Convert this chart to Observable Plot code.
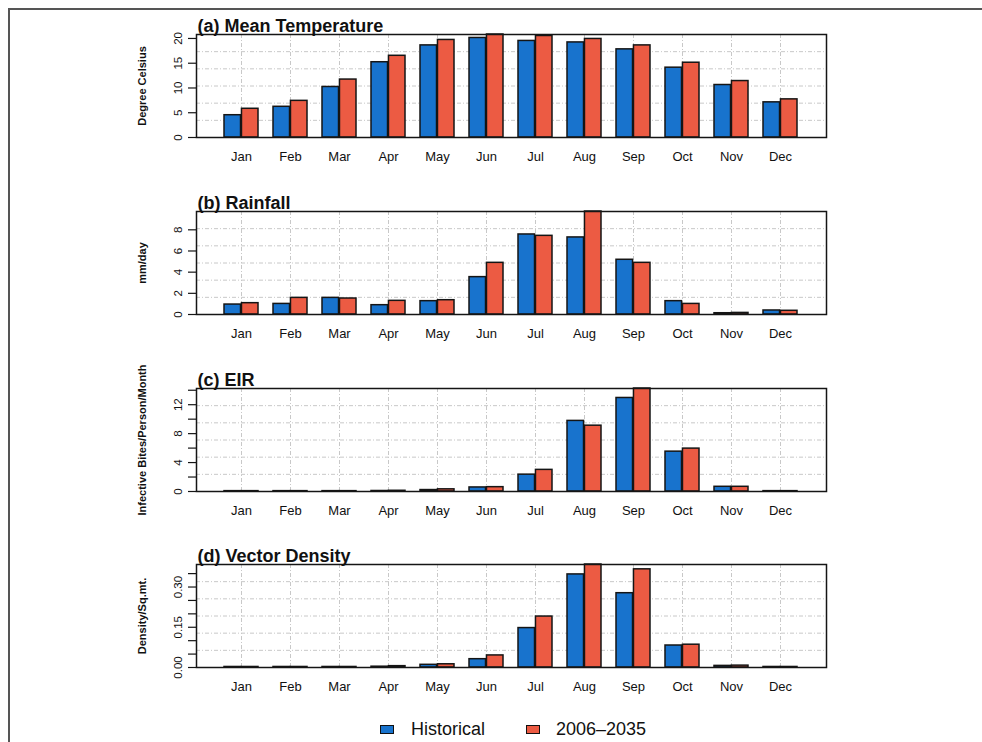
<!DOCTYPE html>
<html>
<head>
<meta charset="utf-8">
<script src="https://cdn.jsdelivr.net/npm/d3@7"></script>
<script src="https://cdn.jsdelivr.net/npm/@observablehq/plot@0.6"></script>
<style>
  html, body { margin: 0; padding: 0; background: #fff; }
  #wrap { position: relative; width: 982px; height: 742px; overflow: hidden; font-family: "Liberation Sans", Arial, sans-serif; }
  #outer { position: absolute; left: 8px; top: 8px; width: 990px; height: 760px; border-top: 2px solid #555; border-left: 2px solid #555; }
  .panel { position: absolute; left: 0; }
  #legend { position: absolute; top: 717px; left: 0; width: 982px; height: 24px; font-size: 18px; color: #111; }
  .sw { position: absolute; top: 8px; width: 12px; height: 7px; border: 1px solid #111; }
  .lt { position: absolute; top: 0px; line-height: 24px; }
</style>
</head>
<body>
<div id="wrap">
  <div id="outer"></div>
  <div id="legend"></div>
</div>
<script>
// ---- data ----
const months = ["Jan","Feb","Mar","Apr","May","Jun","Jul","Aug","Sep","Oct","Nov","Dec"];
const seriesNames = ["Historical", "2006\u20132035"];
const seriesColors = ["#1873cd", "#ec5b43"];

const tempHist = [4.5, 6.2, 10.2, 15.2, 18.6, 20.1, 19.5, 19.2, 17.8, 14.1, 10.6, 7.1];
const tempFut  = [5.8, 7.4, 11.7, 16.5, 19.7, 20.8, 20.5, 19.9, 18.6, 15.1, 11.4, 7.7];

const rainHist = [0.94, 1.0, 1.57, 0.88, 1.26, 3.53, 7.56, 7.28, 5.17, 1.26, 0.12, 0.38];
const rainFut  = [1.07, 1.57, 1.51, 1.29, 1.35, 4.88, 7.43, 9.73, 4.88, 1.0, 0.15, 0.35];

const eirHist = [0.05, 0.05, 0.05, 0.07, 0.2, 0.56, 2.33, 9.76, 12.93, 5.51, 0.65, 0.05];
const eirFut  = [0.05, 0.05, 0.05, 0.1, 0.3, 0.6, 2.99, 9.1, 14.24, 5.93, 0.65, 0.05];

const vecHist = [0.002, 0.002, 0.002, 0.003, 0.010, 0.031, 0.147, 0.347, 0.277, 0.082, 0.006, 0.002];
const vecFut  = [0.002, 0.002, 0.002, 0.005, 0.012, 0.045, 0.190, 0.384, 0.366, 0.085, 0.007, 0.002];

const panelTitles = ["(a) Mean Temperature", "(b) Rainfall", "(c) EIR", "(d) Vector Density"];
const yLabels = ["Degree Celsius", "mm/day", "Infective Bites/Person/Month", "Density/Sq.mt."];

const tempTicks = [0, 5, 10, 15, 20];
const tempTickLabels = ["0", "5", "10", "15", "20"];
const rainTicks = [0, 2, 4, 6, 8];
const rainTickLabels = ["0", "2", "4", "6", "8"];
const eirTicks = [0, 2, 4, 6, 8, 10, 12, 14];
const eirTickLabels = ["0", "", "4", "", "8", "", "12", ""];
const vecTicks = [0, 0.05, 0.10, 0.15, 0.20, 0.25, 0.30, 0.35];
const vecTickLabels = ["0.00", "", "", "0.15", "", "", "0.30", ""];

// ---- layout ----
const W = 982, H = 177;
const mL = 196, mR = 156, mT = 34, mB = 40;
const panelTops = [0, 177, 354, 530];
const padInner = 0.3, padOuter = 0.46;
const step = (W - mL - mR) / (months.length - padInner + 2 * padOuter);
const bw = step * (1 - padInner);

const panels = [
  {hist: tempHist, fut: tempFut, ticks: tempTicks, labels: tempTickLabels},
  {hist: rainHist, fut: rainFut, ticks: rainTicks, labels: rainTickLabels},
  {hist: eirHist, fut: eirFut, ticks: eirTicks, labels: eirTickLabels},
  {hist: vecHist, fut: vecFut, ticks: vecTicks, labels: vecTickLabels}
];

const wrap = document.getElementById("wrap");

panels.forEach((p, i) => {
  const hist = months.map((m, j) => ({month: m, value: p.hist[j]}));
  const fut = months.map((m, j) => ({month: m, value: p.fut[j]}));
  const ymax = d3.max([...p.hist, ...p.fut]);
  const gridY = d3.range(1, 6).map(k => ymax * k / 6);
  const labelMap = new Map(p.ticks.map((t, j) => [t, p.labels[j]]));

  const chart = Plot.plot({
    width: W,
    height: H,
    marginLeft: mL, marginRight: mR, marginTop: mT, marginBottom: mB,
    style: {fontFamily: "'Liberation Sans', Arial, sans-serif", background: "transparent", overflow: "visible"},
    x: {type: "band", domain: months, paddingInner: padInner, paddingOuter: padOuter, label: null},
    y: {domain: [0, ymax], label: null},
    marks: [
      Plot.ruleX(months, {x: d => d, stroke: "#c8c8c8", strokeWidth: 1, strokeDasharray: "4,2,1,2"}),
      Plot.ruleY(gridY, {y: d => d, stroke: "#c8c8c8", strokeWidth: 1, strokeDasharray: "4,2,1,2"}),
      Plot.barY(hist, {x: "month", y: "value", fill: seriesColors[0], stroke: "#151515", strokeWidth: 1.5, insetRight: bw / 2}),
      Plot.barY(fut, {x: "month", y: "value", fill: seriesColors[1], stroke: "#151515", strokeWidth: 1.5, insetLeft: bw / 2}),
      Plot.frame({stroke: "#151515", strokeWidth: 1.5}),
      Plot.axisX({tickSize: 0, tickPadding: 14, fontSize: 13, label: null, fill: "#111"}),
      Plot.axisY({ticks: p.ticks, tickFormat: d => labelMap.get(d) ?? "", tickSize: 8, tickPadding: 7, tickRotate: -90, fontSize: 11.5, label: null, stroke: "#151515", strokeWidth: 1.2, fill: "#111"}),
      Plot.text([panelTitles[i]], {text: d => d, frameAnchor: "top-left", textAnchor: "start", lineAnchor: "bottom", dy: -3, dx: 1, fontSize: 18, fontWeight: "bold", fill: "#111"}),
      Plot.text([yLabels[i]], {text: d => d, frameAnchor: "left", textAnchor: "middle", lineAnchor: "middle", rotate: -90, dx: -54, fontSize: 11, fontWeight: "bold", fill: "#111"})
    ]
  });
  chart.classList.add("panel");
  chart.style.top = panelTops[i] + "px";
  chart.style.position = "absolute";
  wrap.appendChild(chart);
});

// ---- legend ----
const legend = document.getElementById("legend");
const legendX = [[380, 411], [526, 556]];
seriesNames.forEach((name, k) => {
  const sw = document.createElement("div");
  sw.className = "sw";
  sw.style.left = legendX[k][0] + "px";
  sw.style.background = seriesColors[k];
  legend.appendChild(sw);
  const t = document.createElement("div");
  t.className = "lt";
  t.style.left = legendX[k][1] + "px";
  t.textContent = name;
  legend.appendChild(t);
});
</script>
</body>
</html>
